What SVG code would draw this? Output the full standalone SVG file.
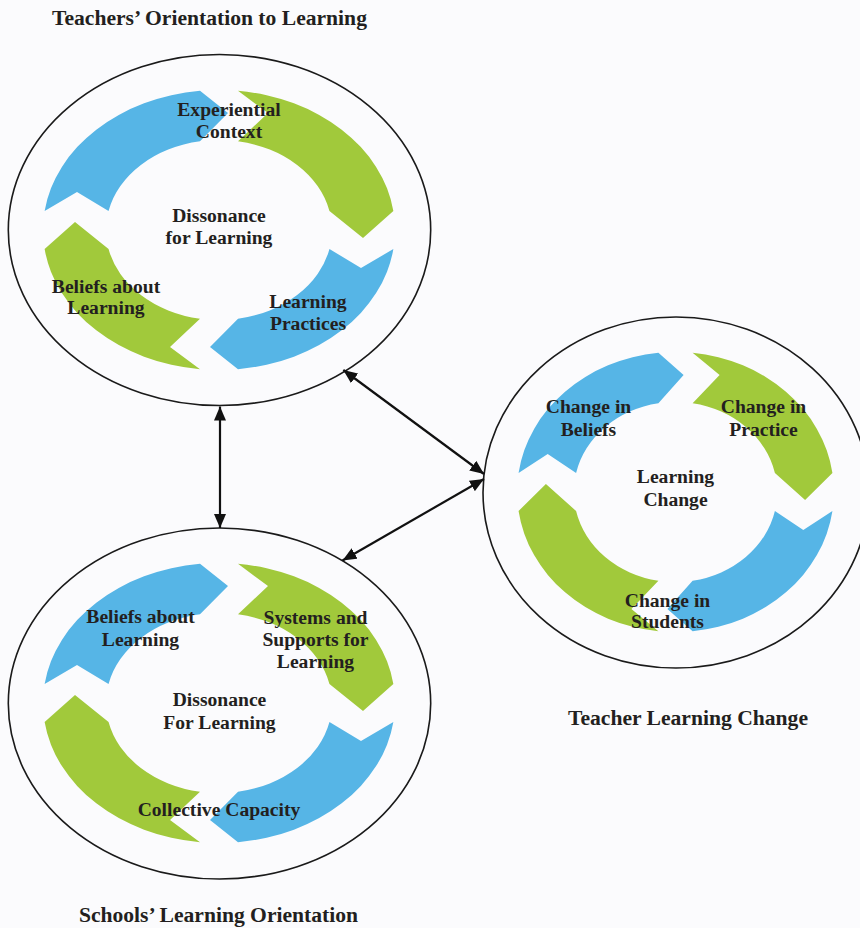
<svg xmlns="http://www.w3.org/2000/svg" xmlns:xlink="http://www.w3.org/1999/xlink" width="860" height="928" viewBox="0 0 860 928">
  <style>
    .bg { fill: #fbfbfd; }
    .frame { fill: none; stroke: #1a1a1a; stroke-width: 1.6; }
    .blue { fill: #56b5e6; }
    .green { fill: #a1c93b; }
    text { font-family: "Liberation Serif", "Times New Roman", serif; font-weight: bold; fill: #231f20; text-anchor: middle; }
    .label { font-size: 19.6px; }
    .title { font-size: 21.6px; }
    .link { stroke: #111; stroke-width: 2.2; fill: none; marker-start: url(#head); marker-end: url(#head); }
  </style>
  <defs>
    <marker id="head" viewBox="0 0 14 12" refX="14" refY="6" markerWidth="14" markerHeight="12" markerUnits="userSpaceOnUse" orient="auto-start-reverse">
      <path d="M0,0 L14,6 L0,12 Z" fill="#111"/>
    </marker>
    <!-- one quarter of the ring, notched tail and pointed head, centred on 0,0 -->
    <path id="arcA" d="M-174.37,-19 A176,140 0 0 1 -19,-139.18 L9,-117 L-19,-88.72 A113,90 0 0 0 -110.45,-19 L-142,-38 Z"/>
    <path id="arcB" d="M19,-139.18 A176,140 0 0 1 174.37,-19 L144,8 L110.45,-19 A113,90 0 0 0 19,-88.72 L49,-117 Z"/>
    <g id="cycle">
      <use xlink:href="#arcA" class="blue"/>
      <use xlink:href="#arcB" class="green"/>
      <use xlink:href="#arcA" class="blue" transform="rotate(180)"/>
      <use xlink:href="#arcB" class="green" transform="rotate(180)"/>
    </g>
  </defs>

  <rect class="bg" x="0" y="0" width="860" height="928"/>

  <g id="teachers-orientation">
    <text class="title" x="209.5" y="25">Teachers’ Orientation to Learning</text>
    <ellipse class="frame" cx="219.5" cy="230" rx="211.2" ry="175.5"/>
    <use xlink:href="#cycle" transform="translate(219,230)"/>
    <text class="label" x="229" y="116">Experiential</text>
    <text class="label" x="229" y="138">Context</text>
    <text class="label" x="219" y="222">Dissonance</text>
    <text class="label" x="219" y="244">for Learning</text>
    <text class="label" x="106" y="293">Beliefs about</text>
    <text class="label" x="106" y="314">Learning</text>
    <text class="label" x="308" y="308">Learning</text>
    <text class="label" x="308" y="330">Practices</text>
  </g>

  <g id="schools-orientation">
    <ellipse class="frame" cx="219.5" cy="703.5" rx="211.2" ry="175.5"/>
    <use xlink:href="#cycle" transform="translate(219,703)"/>
    <text class="label" x="140.5" y="623">Beliefs about</text>
    <text class="label" x="140.5" y="646">Learning</text>
    <text class="label" x="315.5" y="624">Systems and</text>
    <text class="label" x="315.5" y="646">Supports for</text>
    <text class="label" x="315.5" y="668">Learning</text>
    <text class="label" x="219.5" y="706">Dissonance</text>
    <text class="label" x="219.5" y="729">For Learning</text>
    <text class="label" x="219" y="816">Collective Capacity</text>
    <text class="title" x="218.5" y="922">Schools’ Learning Orientation</text>
  </g>

  <g id="teacher-learning-change">
    <ellipse class="frame" cx="676" cy="492.5" rx="193" ry="175.5"/>
    <use xlink:href="#cycle" transform="translate(675.5,492) scale(0.9,1)"/>
    <text class="label" x="588.5" y="413">Change in</text>
    <text class="label" x="588.5" y="436">Beliefs</text>
    <text class="label" x="763.5" y="413">Change in</text>
    <text class="label" x="763.5" y="436">Practice</text>
    <text class="label" x="675.5" y="483">Learning</text>
    <text class="label" x="675.5" y="506">Change</text>
    <text class="label" x="667.5" y="607">Change in</text>
    <text class="label" x="667.5" y="628">Students</text>
    <text class="title" x="688" y="725">Teacher Learning Change</text>
  </g>

  <g id="connectors">
    <line class="link" x1="220" y1="406.5" x2="220" y2="528"/>
    <line class="link" x1="343.3" y1="370" x2="484" y2="474"/>
    <line class="link" x1="484" y1="479" x2="342.5" y2="560.5"/>
  </g>
</svg>
